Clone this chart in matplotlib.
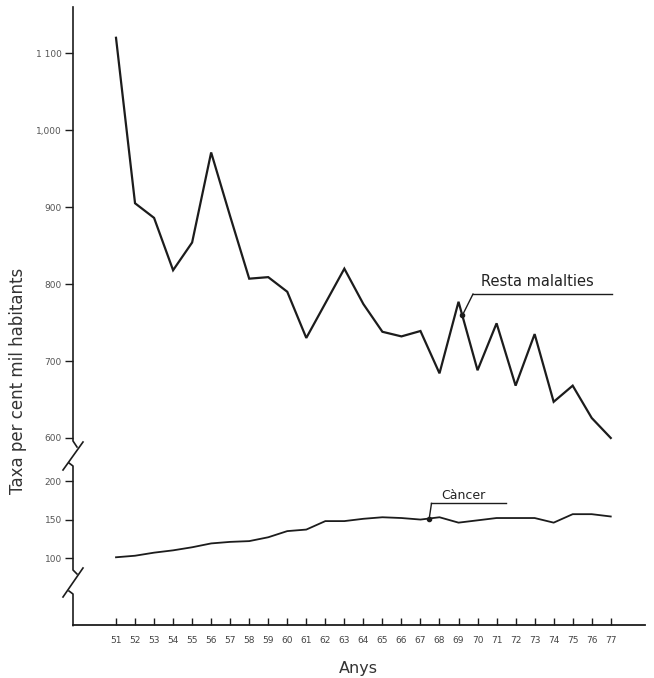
import numpy as np
import matplotlib
matplotlib.use("Agg")
import matplotlib.pyplot as plt
from matplotlib.lines import Line2D

# ---- data ----
years = list(range(51, 78))
resta = [1120, 905, 886, 818, 854, 971, 888, 807, 809, 790, 730, 775, 820, 774,
         738, 732, 739, 684, 777, 688, 749, 668, 735, 647, 668, 626, 600]
cancer = [101, 103, 107, 110, 114, 119, 121, 122, 127, 135, 137, 148, 148, 151,
          153, 152, 150, 153, 146, 149, 152, 152, 152, 146, 157, 157, 154]
ytick_vals = [100, 150, 200, 600, 700, 800, 900, 1000, 1100]
ytick_labels = ["100", "150", "200", "600", "700", "800", "900", "1,000", "1 100"]
xtick_labels = [str(y) for y in years]

W, H = 654, 678
fig = plt.figure(figsize=(W / 100, H / 100), dpi=100)
fig.patch.set_facecolor("white")

ax_l, ax_r, ax_t, ax_b = 73, 645, 7, 625
ax = fig.add_axes([ax_l / W, 1 - ax_b / H, (ax_r - ax_l) / W, (ax_b - ax_t) / H])

# broken y scale: lower part 0-200, compressed gap 200-600, upper part >=600
bp_v = [-1000, 200, 600, 3000]
bp_u = [-1000, 200, 256, 2656]
fwd = lambda v: np.interp(v, bp_v, bp_u)
inv = lambda u: np.interp(u, bp_u, bp_v)
ax.set_yscale("function", functions=(fwd, inv))

lc = "#1c1c1c"
ax.plot(years, resta, color=lc, lw=1.6, solid_joinstyle="miter")
ax.plot(years, cancer, color=lc, lw=1.3)

ax.set_xlim(48.74, 78.8)
ax.set_ylim(13, 1160)

ax.set_yticks(ytick_vals)
ax.set_yticklabels(ytick_labels)
ax.set_xticks(years)
ax.set_xticklabels(xtick_labels)
ax.minorticks_off()

ax.tick_params(axis="y", direction="out", length=6, width=1.0, labelsize=6.5,
               pad=2, labelcolor="#555555", color=lc)
ax.tick_params(axis="x", direction="in", length=5, width=1.0, labelsize=6.5,
               pad=8, labelcolor="#444444", color=lc)

for s in ["top", "right", "left"]:
    ax.spines[s].set_visible(False)
ax.spines["bottom"].set_color(lc)
ax.spines["bottom"].set_linewidth(1.3)

# left spine drawn with break marks (figure pixel coordinates)
def P(x, y):
    return (x / W, 1 - y / H)

def fline(pts, lw=1.2):
    xs = [P(*p)[0] for p in pts]
    ys = [P(*p)[1] for p in pts]
    fig.add_artist(Line2D(xs, ys, color=lc, lw=lw, transform=fig.transFigure))

fline([(73, 7), (73, 441), (77, 447)])
fline([(83, 442), (63, 470)])
fline([(69, 463), (73, 466), (73, 570), (77, 574)])
fline([(83, 568), (63, 597)])
fline([(69, 591), (73, 594), (73, 625.5)])

# annotations
rx = 69.2
ry = np.interp(rx, years, resta)
ax.plot([rx, 69.76], [ry, 787], color=lc, lw=1.0)
ax.plot([rx], [ry], marker="o", ms=3, color=lc)
ax.plot([69.76, 77.05], [787, 787], color=lc, lw=1.0)
ax.text(70.2, 803, "Resta malalties", fontsize=10.5, color="#222222",
        ha="left", va="center")

cx = 67.46
cy = np.interp(cx, years, cancer)
ax.plot([cx, 67.58], [cy, 171], color=lc, lw=1.0)
ax.plot([cx], [cy], marker="o", ms=3, color=lc)
ax.plot([67.58, 71.5], [171, 171], color=lc, lw=1.0)
ax.text(68.1, 181, "Càncer", fontsize=9, color="#222222",
        ha="left", va="center")

fig.text(18 / W, 1 - 381 / H, "Taxa per cent mil habitants", rotation=90,
         fontsize=12, color="#333333", ha="center", va="center")
fig.text(358 / W, 1 - 668 / H, "Anys", fontsize=11.5, color="#333333",
         ha="center", va="center")

fig.savefig("out.png", dpi=100, facecolor="white")
